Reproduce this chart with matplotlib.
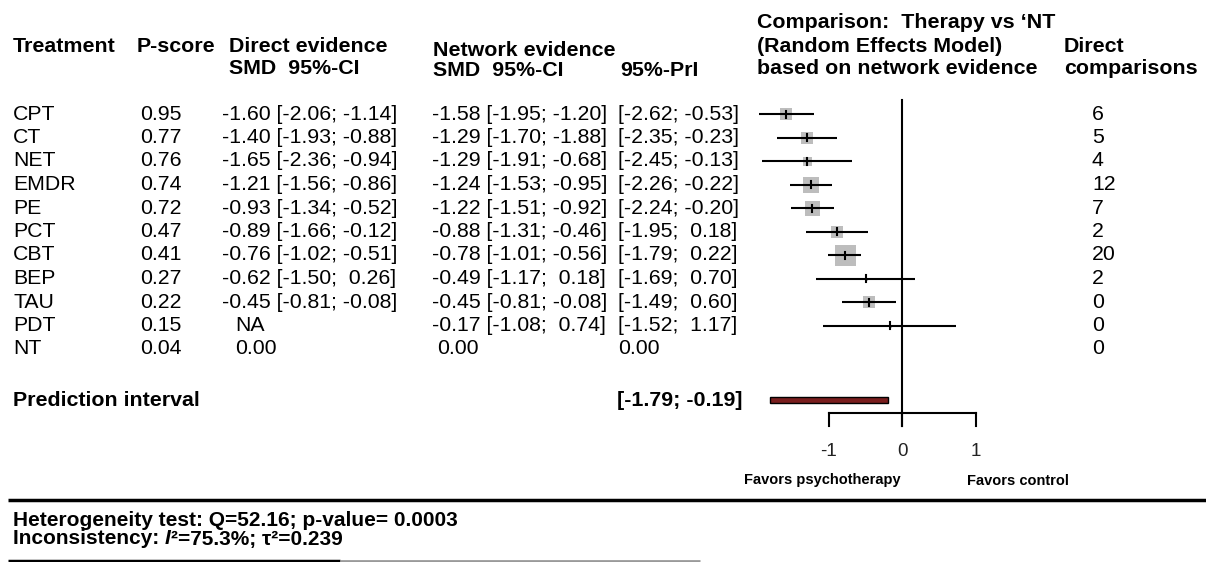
import matplotlib.pyplot as plt

plt.rcParams["font.family"] = ["Liberation Sans", "DejaVu Sans"]

# ── Network meta-analysis results (SMD vs NT) ─────────────────────────────────
treatments = ["CPT", "CT", "NET", "EMDR", "PE", "PCT", "CBT", "BEP", "TAU", "PDT", "NT"]
p_score    = [0.95, 0.77, 0.76, 0.74, 0.72, 0.47, 0.41, 0.27, 0.22, 0.15, 0.04]

# direct evidence (None = no direct comparison)
dir_est = [-1.60, -1.40, -1.65, -1.21, -0.93, -0.89, -0.76, -0.62, -0.45, None, 0.00]
dir_lo  = [-2.06, -1.93, -2.36, -1.56, -1.34, -1.66, -1.02, -1.50, -0.81, None, None]
dir_hi  = [-1.14, -0.88, -0.94, -0.86, -0.52, -0.12, -0.51, 0.26, -0.08, None, None]

# network evidence
net_est = [-1.58, -1.29, -1.29, -1.24, -1.22, -0.88, -0.78, -0.49, -0.45, -0.17, 0.00]
net_lo  = [-1.95, -1.70, -1.91, -1.53, -1.51, -1.31, -1.01, -1.17, -0.81, -1.08, None]
net_hi  = [-1.20, -0.88, -0.68, -0.95, -0.92, -0.46, -0.56, 0.18, -0.08, 0.74, None]
pri_lo  = [-2.62, -2.35, -2.45, -2.26, -2.24, -1.95, -1.79, -1.69, -1.49, -1.52, None]
pri_hi  = [-0.53, -0.23, -0.13, -0.22, -0.20, 0.18, 0.22, 0.70, 0.60, 1.17, None]
# the published table prints -1.88 as CT's upper network bound
net_hi_printed = {"CT": "-1.88"}

# relative weight of each network estimate (square area)
weights = [1.44, 1.44, 0.81, 2.56, 2.25, 1.44, 4.41, 0.09, 1.44, 0.09, None]

n_direct = [6, 5, 4, 12, 7, 2, 20, 2, 0, 0, 0]

pred_lo, pred_hi = -1.79, -0.19
Q, p_value = 52.16, 0.0003
I2, tau2 = 75.3, 0.239

# ── layout (pixels) ───────────────────────────────────────────────────────────
W, H = 1206, 562
ROW0, ROWH = 114, 23.5
X0, UNIT = 902, 73.5          # pixel position of SMD = 0, pixels per SMD unit
FS, HFS = 15.3, 15.4

fig = plt.figure(figsize=(W / 100, H / 100), dpi=100)
ax = fig.add_axes([0, 0, 1, 1])
ax.set_xlim(0, W)
ax.set_ylim(H, 0)
ax.axis("off")

fa = fig.add_axes([0, 0, 1, 1])
fa.set_xlim(-X0 / UNIT, (W - X0) / UNIT)
fa.set_ylim(H, 0)
fa.axis("off")
fa.patch.set_alpha(0)


def hdr(x, y, s, size=HFS, **kw):
    return ax.text(x, y, s, fontsize=size, fontweight="bold", va="center",
                   ha="left", **kw)


def cell(x, y, s):
    ax.text(x, y, s, fontsize=FS, va="center", ha="left")


def ci(est, lo, hi, hi_txt=None):
    hi_txt = hi_txt if hi_txt is not None else f"{hi:5.2f}"
    return f"{est:.2f} [{lo:.2f}; {hi_txt}]"


# ── headers ───────────────────────────────────────────────────────────────────
hdr(13, 46, "Treatment")
hdr(137, 46, "P-score")
hdr(229, 46, "Direct evidence")
hdr(229, 69, "SMD  95%-CI")
hdr(433, 51, "Network evidence")
hdr(433, 70, "SMD  95%-CI")
hdr(620, 70, "95%-PrI")
hdr(757, 22, "Comparison:  Therapy vs \u2018NT")
hdr(757, 47, "(Random Effects Model)")
hdr(757, 69, "based on network evidence")
hdr(1064, 47, "Direct")
hdr(1064, 69, "comparisons")

# ── table rows ────────────────────────────────────────────────────────────────
for i, name in enumerate(treatments):
    y = ROW0 + ROWH * i
    cell(13, y, name)
    cell(140, y, f"{p_score[i]:.2f}")
    if dir_est[i] is None:
        cell(235, y, "NA")
    elif dir_lo[i] is None:
        cell(235, y, f"{dir_est[i]:.2f}")
    else:
        cell(222, y, ci(dir_est[i], dir_lo[i], dir_hi[i]))
    if net_lo[i] is None:
        cell(437, y, f"{net_est[i]:.2f}")
        cell(618, y, f"{net_est[i]:.2f}")
    else:
        cell(432, y, ci(net_est[i], net_lo[i], net_hi[i], net_hi_printed.get(name)))
        cell(618, y, f"[{pri_lo[i]:.2f}; {pri_hi[i]:5.2f}]")
    cell(1092, y, str(n_direct[i]))

    # forest marks
    if net_lo[i] is not None:
        fa.plot([net_lo[i], net_hi[i]], [y, y], color="black", lw=1.5,
                solid_capstyle="butt", zorder=3)
        side = 10 * weights[i] ** 0.5 * 0.72
        fa.scatter([net_est[i]], [y], marker="s", s=side ** 2, color="#bdbdbd",
                   linewidths=0, zorder=2)
        fa.plot([net_est[i], net_est[i]], [y - 3.5, y + 3.5], color="black",
                lw=1.5, zorder=4)

# ── prediction interval ───────────────────────────────────────────────────────
y_pred = 400
hdr(13, y_pred, "Prediction interval")
hdr(617, y_pred, f"[{pred_lo:.2f}; {pred_hi:.2f}]")
fa.add_patch(plt.Rectangle((pred_lo, y_pred - 3), pred_hi - pred_lo, 6,
                           facecolor="#7a1e1e", edgecolor="black", lw=1.0, zorder=3))

# ── forest axis ───────────────────────────────────────────────────────────────
fa.plot([0, 0], [100, 426], color="black", lw=1.5, zorder=1)
fa.plot([-1, 1], [413, 413], color="black", lw=1.5)
for t in (-1, 0, 1):
    fa.plot([t, t], [413, 426], color="black", lw=1.5)
    fa.text(t, 452, f"{t}", fontsize=13.5, ha="center", va="center", color="#222222")
fa.text(-2.15, 480, "Favors psychotherapy", fontsize=10.5, fontweight="bold",
        ha="left", va="center")
fa.text(0.88, 481, "Favors control", fontsize=10.5, fontweight="bold",
        ha="left", va="center")

# ── heterogeneity footer ──────────────────────────────────────────────────────
ax.plot([8, W], [500, 500], color="black", lw=2.5, solid_capstyle="butt")
hdr(13, 520, f"Heterogeneity test: Q={Q:.2f}; p-value= {p_value:.4f}", size=15)
t1 = hdr(13, 539, "Inconsistency: ", size=15)
t2 = ax.annotate("I", xy=(1, 0), xycoords=t1, va="bottom", ha="left",
                 fontsize=15, fontweight="bold", fontstyle="italic")
ax.annotate(f"\u00b2={I2:.1f}%; \u03c4\u00b2={tau2:.3f}", xy=(1, 0), xycoords=t2,
            va="bottom", ha="left", fontsize=15, fontweight="bold")
ax.plot([8, 340], [561, 561], color="black", lw=2.5, solid_capstyle="butt")
ax.plot([340, 700], [561, 561], color="#9a9a9a", lw=2.0, solid_capstyle="butt")

fig.savefig("out.png", dpi=100)
